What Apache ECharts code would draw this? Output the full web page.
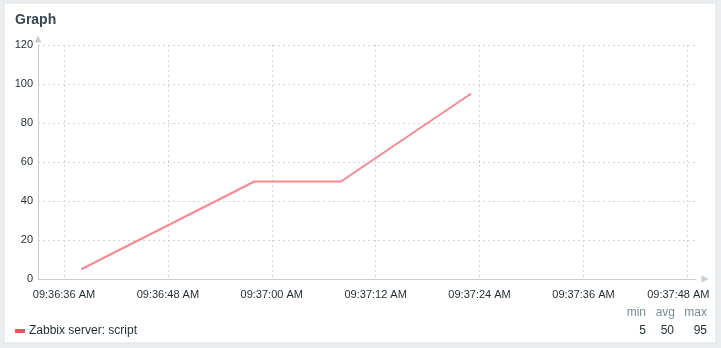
<!DOCTYPE html>
<html><head><meta charset="utf-8">
<script src="https://cdn.jsdelivr.net/npm/echarts@6/dist/echarts.min.js"></script>
<style>html,body{margin:0;padding:0;background:#ebeef0;}#c{width:721px;height:348px;}</style>
</head><body><div id="c"></div>
<script>
const times = ['09:36:38', '09:36:58', '09:37:08', '09:37:23'];
const values = [5, 50, 50, 95];
const tickTimes = ['09:36:36', '09:36:48', '09:37:00', '09:37:12', '09:37:24', '09:37:36', '09:37:48'];
const axisStart = '09:36:33';
const axisEnd = '09:37:49';
const seriesName = 'Zabbix server: script';

function toSec(t) { const p = t.split(':').map(Number); return p[0] * 3600 + p[1] * 60 + p[2]; }
function fmt(s) {
  let h = Math.floor(s / 3600), m = Math.floor((s % 3600) / 60), sec = Math.round(s % 60);
  const ap = h >= 12 ? 'PM' : 'AM';
  let hh = h % 12; if (hh === 0) hh = 12;
  const p = n => (n < 10 ? '0' : '') + n;
  return p(hh) + ':' + p(m) + ':' + p(sec) + ' ' + ap;
}
const data = times.map((t, i) => [toSec(t), values[i]]);
const ticks = tickTimes.map(toSec);
const lastTick = ticks[ticks.length - 1];
const vmin = Math.min(...values), vmax = Math.max(...values);
const vavg = values.reduce((a, b) => a + b, 0) / values.length;

const font = 'Liberation Sans, Arial, sans-serif';
function txt(x, y, s, color) {
  return { type: 'text', x: x, y: y, style: { text: s, font: '12px ' + font, fill: color, align: 'right', verticalAlign: 'middle' } };
}
const chart = echarts.init(document.getElementById('c'), null, { renderer: 'canvas' });
chart.setOption({
  animation: false,
  backgroundColor: '#ebeef0',
  graphic: [
    { type: 'rect', z: -10, shape: { x: 4, y: 3, width: 712, height: 340 }, style: { fill: '#ffffff', stroke: '#dfe4e7', lineWidth: 1 } },
    { type: 'text', x: 15, y: 20, style: { text: 'Graph', font: 'bold 14px ' + font, fill: '#364552', verticalAlign: 'middle' } },
    txt(646, 313, 'min', '#768d99'),
    txt(675, 313, 'avg', '#768d99'),
    txt(707, 313, 'max', '#768d99'),
    txt(646, 331, String(vmin), '#1f2c33'),
    txt(674, 331, String(vavg), '#1f2c33'),
    txt(707, 331, String(vmax), '#1f2c33')
  ],
  legend: {
    left: 15, top: 325, padding: 0, itemWidth: 10, itemHeight: 4, itemGap: 10,
    icon: 'rect',
    textStyle: { fontFamily: font, fontSize: 12, color: '#1f2c33', padding: [0, 0, 0, -1] },
    data: [{ name: seriesName, itemStyle: { color: '#f24f5e' } }]
  },
  grid: { left: 38, right: 25, top: 45, bottom: 69, containLabel: false },
  xAxis: {
    type: 'value', min: toSec(axisStart), max: toSec(axisEnd),
    axisLine: { show: true, lineStyle: { color: '#c5ced5', width: 1 }, symbol: ['none', 'triangle'], symbolSize: [7, 7], symbolOffset: [0, 9] },
    axisTick: { show: false, customValues: ticks },
    axisLabel: {
      customValues: ticks,
      formatter: v => (v === lastTick ? '{last|' + fmt(v) + '}' : fmt(v)),
      rich: { last: { fontFamily: font, fontSize: 11, color: '#1f2c33', padding: [0, 18, 0, 0] } },
      fontFamily: font, fontSize: 11, color: '#1f2c33', margin: 10
    },
    splitLine: { show: true, customValues: ticks, lineStyle: { color: '#cfd6db', type: [2, 3], width: 1 } }
  },
  yAxis: {
    type: 'value', min: 0, max: 120, interval: 20,
    axisLine: { show: true, lineStyle: { color: '#c5ced5', width: 1 }, symbol: ['none', 'triangle'], symbolSize: [7, 7], symbolOffset: [0, 6] },
    axisTick: { show: false },
    axisLabel: { fontFamily: font, fontSize: 11, color: '#1f2c33', margin: 5 },
    splitLine: { show: true, showMinLine: false, lineStyle: { color: '#cfd6db', type: [2, 3], width: 1 } }
  },
  series: [{
    name: seriesName, type: 'line', data: data, showSymbol: false, symbol: 'none',
    lineStyle: { color: '#f98893', width: 2 }, itemStyle: { color: '#f24f5e' }
  }]
});
</script></body></html>
